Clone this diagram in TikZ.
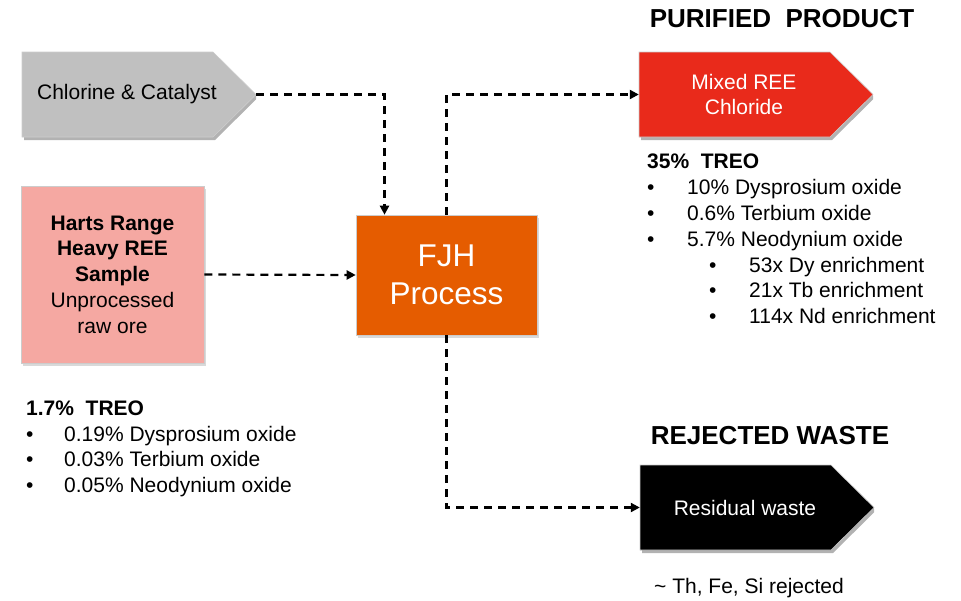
\documentclass[tikz,border=0pt]{standalone}
\usepackage{fontspec}
\setmainfont{Liberation Sans}
\usetikzlibrary{positioning,arrows.meta,shadows}

\definecolor{chlorgray}{HTML}{C0C0C0}
\definecolor{hartspink}{HTML}{F5A8A2}
\definecolor{fjhorange}{HTML}{E55C00}
\definecolor{productred}{HTML}{E92A1B}

\begin{document}
\begin{tikzpicture}[x=1pt,y=-1pt]
    \tikzstyle{every node}=[inner sep=0pt, font=\fontsize{21}{25.8}\selectfont]
    \tikzstyle{flow}=[draw, line width=2.2pt, dash pattern=on 8pt off 6pt,
      -{Triangle[length=9pt,width=9pt]}]
    \tikzstyle{box}=[draw=black!20, line width=.6pt, align=center,
      drop shadow={shadow xshift=2pt, shadow yshift=-3pt, opacity=.3}]
    \tikzstyle{heading}=[font=\fontsize{26}{30}\selectfont\bfseries]
    \tikzstyle{list}=[anchor=north west, align=left]
    \tikzset{tag/.style={minimum width=258pt, minimum height=93pt, align=center,
      path picture={
        \coordinate (pc) at (path picture bounding box.center);
        \fill[black, opacity=.3] ([shift={(-103pt,39.5pt)}]pc) -- ([shift={(88pt,39.5pt)}]pc)
          -- ([shift={(131pt,-3pt)}]pc) -- ([shift={(88pt,-45.5pt)}]pc)
          -- ([shift={(-103pt,-45.5pt)}]pc) -- cycle;
        \filldraw[fill=#1, draw=black!20, line width=.6pt]
          ([shift={(-105pt,42.5pt)}]pc) -- ([shift={(86pt,42.5pt)}]pc)
          -- ([shift={(129pt,0pt)}]pc) -- ([shift={(86pt,-42.5pt)}]pc)
          -- ([shift={(-105pt,-42.5pt)}]pc) -- cycle;
      }}}
    \newcommand{\bul}{\makebox[40pt][l]{\textbullet}}

    \useasboundingbox (0,0) rectangle (961,600);

    % inputs
    \node[tag=chlorgray] (chlor) at (127,94.5) {Chlorine \& Catalyst};
    \node[box, fill=hartspink, minimum width=183pt, minimum height=177pt] (harts) at (112.5,274.5)
      {\textbf{Harts Range}\\ \textbf{Heavy REE}\\ \textbf{Sample}\\ Unprocessed\\ raw ore};

    % process
    \node[box, fill=fjhorange, text=white, minimum width=181pt, minimum height=120pt,
      font=\fontsize{31.5}{38}\selectfont] (fjh) at (446.5,275) {FJH\\ Process};

    % outputs
    \node[heading] (prodtitle) at (782,19) {PURIFIED\ \ PRODUCT};
    \node[tag=productred, text=white] (mixed) at (744,94.5) {Mixed REE\\ Chloride};
    \node[heading] (wastetitle) at (770,436) {REJECTED WASTE};
    \node[tag=black, text=white] (waste) at (745,507.5) {Residual waste};
    \node (rejnote) at (749,588) {\textasciitilde\ Th, Fe, Si rejected};

    % assays
    \node[list] (prodlist) at (647,154) {\textbf{35\%\ \ TREO}\\
      \bul 10\% Dysprosium oxide\\
      \bul 0.6\% Terbium oxide\\
      \bul 5.7\% Neodynium oxide\\
      \hspace*{62pt}\bul 53x Dy enrichment\\
      \hspace*{62pt}\bul 21x Tb enrichment\\
      \hspace*{62pt}\bul 114x Nd enrichment};
    \node[list] (orelist) at (26,400.5) {\textbf{1.7\%\ \ TREO}\\
      \makebox[38pt][l]{\textbullet}0.19\% Dysprosium oxide\\
      \makebox[38pt][l]{\textbullet}0.03\% Terbium oxide\\
      \makebox[38pt][l]{\textbullet}0.05\% Neodynium oxide};

    % connectors
    \draw[flow] (chlor.east) -| ([xshift=-62pt]fjh.north);
    \draw[flow] (harts.east) -- (fjh.west);
    \draw[flow] (fjh.north) |- ([xshift=24pt]mixed.west);
    \draw[flow] (fjh.south) |- ([xshift=24pt]waste.west);
\end{tikzpicture}
\end{document}
